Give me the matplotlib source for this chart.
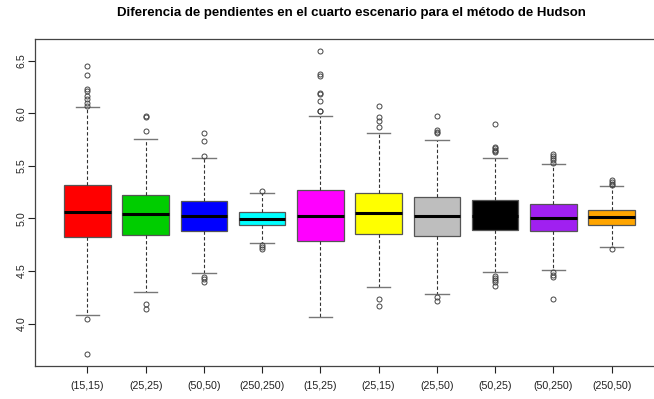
import matplotlib
matplotlib.use("Agg")
import matplotlib.pyplot as plt

plt.rcParams['font.family'] = ['Liberation Sans', 'DejaVu Sans']

labels = ["(15,15)", "(25,25)", "(50,50)", "(250,250)", "(15,25)",
          "(25,15)", "(25,50)", "(50,25)", "(50,250)", "(250,50)"]
colores = ["#FF0000", "#00CD00", "#0000FF", "#00FFFF", "#FF00FF",
           "#FFFF00", "#BEBEBE", "#000000", "#A020F0", "#FFA500"]

# cuartiles, mediana y bigotes de cada escenario
q1 = [4.823, 4.838, 4.880, 4.934, 4.785, 4.852, 4.833, 4.886, 4.880, 4.934]
med = [5.061, 5.038, 5.026, 4.997, 5.019, 5.048, 5.023, 5.025, 5.004, 5.016]
q3 = [5.318, 5.219, 5.162, 5.061, 5.270, 5.238, 5.206, 5.175, 5.137, 5.080]
whislo = [4.085, 4.300, 4.480, 4.762, 4.066, 4.348, 4.281, 4.487, 4.512, 4.728]
whishi = [6.055, 5.755, 5.577, 5.244, 5.976, 5.810, 5.748, 5.577, 5.513, 5.304]

# valores atipicos
atipicos = [
    [6.445, 6.360, 6.230, 6.207, 6.160, 6.135, 6.097, 6.070, 4.047, 3.711],
    [5.970, 5.965, 5.830, 4.190, 4.142],
    [5.815, 5.736, 5.596, 4.446, 4.424, 4.395],
    [5.257, 4.743, 4.730, 4.710],
    [6.587, 6.369, 6.357, 6.190, 6.180, 6.112, 6.024, 6.018],
    [6.068, 5.964, 5.922, 5.869, 4.234, 4.164],
    [5.973, 5.843, 5.825, 5.812, 4.249, 4.218],
    [5.897, 5.679, 5.666, 5.653, 5.640, 5.627, 4.452, 4.430, 4.410, 4.390, 4.360],
    [5.615, 5.590, 5.570, 5.550, 5.530, 4.490, 4.465, 4.440, 4.234],
    [5.368, 5.350, 5.330, 5.315, 4.709],
]

stats = []
for i in range(len(labels)):
    stats.append(dict(med=med[i], q1=q1[i], q3=q3[i], whislo=whislo[i],
                      whishi=whishi[i], fliers=atipicos[i], label=labels[i]))

fig = plt.figure(figsize=(6.54, 3.99), dpi=100)
ax = fig.add_axes([0.0535, 0.0827, 0.9618, 0.8196])

bp = ax.bxp(stats, positions=range(1, 11), widths=0.8, capwidths=0.4,
            patch_artist=True,
            boxprops=dict(edgecolor="#555555", linewidth=0.9),
            medianprops=dict(color="black", linewidth=2.2, solid_capstyle="butt"),
            whiskerprops=dict(color="#333333", linewidth=0.8, linestyle=(0, (3, 2))),
            capprops=dict(color="#777777", linewidth=1.0),
            flierprops=dict(marker="o", markersize=3.6, markerfacecolor="none",
                            markeredgecolor="#444444", markeredgewidth=0.7))
for caja, c in zip(bp["boxes"], colores):
    caja.set_facecolor(c)

ax.set_xlim(0.1, 10.9)
ax.set_ylim(3.596, 6.705)
ax.set_yticks([4.0, 4.5, 5.0, 5.5, 6.0, 6.5])
ax.set_yticklabels(["4.0", "4.5", "5.0", "5.5", "6.0", "6.5"], rotation=90, va="center")
ax.tick_params(axis="both", labelsize=7.7, colors="#222222", length=5, width=0.8)
ax.tick_params(axis="x", pad=6)
ax.tick_params(axis="y", pad=1)
for s in ax.spines.values():
    s.set_color("#444444")
    s.set_linewidth(0.9)

fig.text(0.537, 0.967, "Diferencia de pendientes en el cuarto escenario para el método de Hudson",
         ha="center", va="center", fontsize=9.5, fontweight="bold")

fig.savefig("out.png", dpi=100)
